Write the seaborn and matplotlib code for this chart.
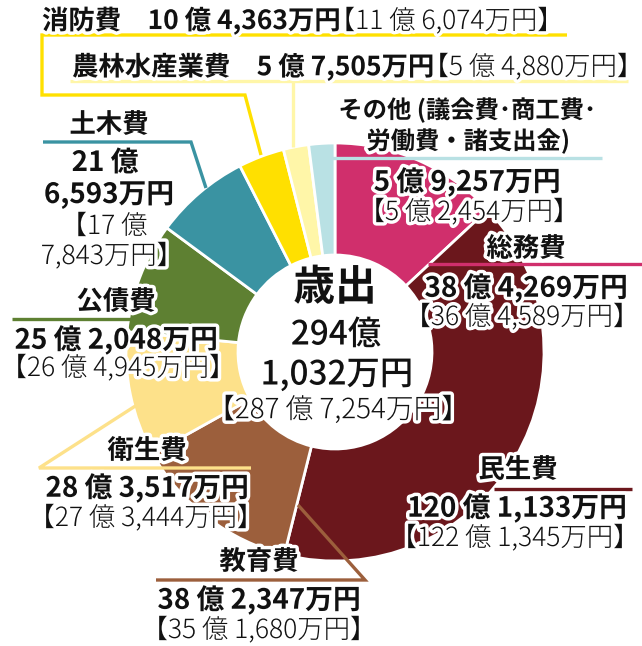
import matplotlib
matplotlib.use('Agg')
import matplotlib.pyplot as plt
import matplotlib.patheffects as pe
import seaborn as sns

# 歳出の内訳 (単位: 万円) - 12時から時計回りの順
categories = ['総務費', '民生費', '教育費', '衛生費', '公債費', '土木費', '消防費', '農林水産業費', 'その他']
amounts = [384269, 1201133, 382347, 283517, 252048, 216593, 104363, 57505, 59257]
prev_amounts = [364589, 1221345, 351680, 273444, 264945, 177843, 116074, 54880, 52454]
colors = ['#D02F6C', '#6B171C', '#9C5F3C', '#FDE18A', '#5E8032', '#3A93A2', '#FFE000', '#FFF6A8', '#B9E1E4']
other_note = ['その他 (議会費･商工費･', '労働費・諸支出金)']
center_title = '歳出'


def oku(v):
    return f'{v // 10000} 億 {v % 10000:,}万円'


sns.set_theme(style='white')
plt.rcParams['font.family'] = ['Noto Sans CJK JP', 'DejaVu Sans']

W, H = 642, 646
fig = plt.figure(figsize=(W / 100, H / 100), dpi=100)
ax = fig.add_axes([0, 0, 1, 1])
palette = sns.color_palette(colors)
ax.pie(amounts, colors=palette, center=(335, 352), radius=209, startangle=-90, counterclock=True,
       wedgeprops=dict(width=112, edgecolor='white', linewidth=2))
ax.set_xlim(0, W)
ax.set_ylim(H, 0)
ax.set_aspect('equal')
ax.axis('off')

stroke = [pe.withStroke(linewidth=5, foreground='white')]
renderer = fig.canvas.get_renderer()

NAME, VAL, PREV = 19, 20, 19


def label(x, y, s, size, weight='bold', ha='center'):
    return ax.text(x, y, s, fontsize=size, fontweight=weight, ha=ha, va='center',
                   color='#111111', path_effects=stroke, zorder=6)


def inline(x, y, bold, light, size=19):
    t = label(x, y, bold, size, ha='left')
    x2 = t.get_window_extent(renderer).x1
    # 【 の左側の余白を詰める
    label(x2 - PREV * 100 / 72 * 0.45, y, light, PREV, weight='light', ha='left')


def line(xs, ys, c):
    ax.plot(xs, ys, color=c, lw=2.4, solid_capstyle='butt', solid_joinstyle='miter', zorder=4)


c = dict(zip(categories, colors))
a = dict(zip(categories, amounts))
p = dict(zip(categories, prev_amounts))

# 消防費
line([567, 42, 42, 245, 261], [35, 35, 95, 95, 155], c['消防費'])
inline(42, 21, '消防費　' + oku(a['消防費']), '【' + oku(p['消防費']) + '】')

# 農林水産業費
line([70, 628], [81, 81], c['農林水産業費'])
line([293, 293], [81, 147], c['農林水産業費'])
inline(72, 67, '農林水産業費　' + oku(a['農林水産業費']), '【' + oku(p['農林水産業費']) + '】')

# その他
line([322, 602], [158, 158], c['その他'])
label(467, 110, other_note[0], 17.5)
label(468, 141, other_note[1], 17.5)
label(467, 182, oku(a['その他']), VAL)
label(469, 212, '【' + oku(p['その他']) + '】', PREV, weight='light')

# 総務費
line([428, 642], [264, 264], c['総務費'])
label(526, 249, '総務費', NAME)
label(526, 288, oku(a['総務費']), VAL)
label(522, 317, '【' + oku(p['総務費']) + '】', PREV, weight='light')

# 民生費
line([494, 632], [489, 489], c['民生費'])
label(518, 470, '民生費', NAME)
label(517, 508, oku(a['民生費']), VAL)
label(515, 538, '【' + oku(p['民生費']) + '】', PREV, weight='light')

# 教育費
line([156, 365, 298], [580, 580, 505], c['教育費'])
label(259, 562, '教育費', NAME)
label(259, 600, oku(a['教育費']), VAL)
label(259, 630, '【' + oku(p['教育費']) + '】', PREV, weight='light')

# 衛生費
line([140, 39, 251], [403, 468, 468], c['衛生費'])
label(147, 451, '衛生費', NAME)
label(147, 488, oku(a['衛生費']), VAL)
label(146, 518, '【' + oku(p['衛生費']) + '】', PREV, weight='light')

# 公債費
line([12, 131], [319, 319], c['公債費'])
label(116, 302, '公債費', NAME)
label(116, 340, oku(a['公債費']), VAL)
label(118, 368, '【' + oku(p['公債費']) + '】', PREV, weight='light')

# 土木費
line([43, 191, 206], [142, 142, 188], c['土木費'])
label(109, 125, '土木費', NAME)
label(105, 163, f"{a['土木費'] // 10000} 億", VAL)
label(109, 195, f"{a['土木費'] % 10000:,}万円", VAL)
label(104, 226, f"【{p['土木費'] // 10000} 億", PREV, weight='light')
label(112, 256, f"{p['土木費'] % 10000:,}万円】", PREV, weight='light')

# 中央
total = sum(amounts)
prev_total = sum(prev_amounts)
label(335, 288, center_title, 30)
label(336, 335, f'{total // 10000}億', 24, weight='medium')
label(337, 375, f'{total % 10000:,}万円', 24, weight='medium')
label(338, 410, '【' + oku(prev_total) + '】', 20, weight='light')

fig.savefig('out.png', dpi=100)
